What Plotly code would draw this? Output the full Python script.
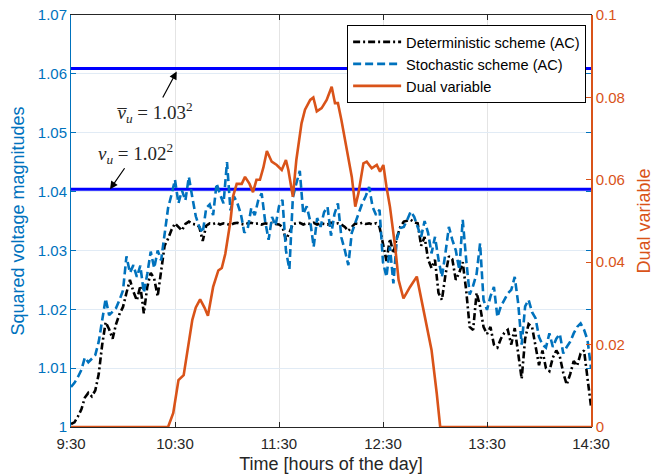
import plotly.graph_objects as go

# ---- data -------------------------------------------------------------
tick_minutes = [0, 60, 120, 180, 240, 300]
tick_labels = ["9:30", "10:30", "11:30", "12:30", "13:30", "14:30"]

minutes = list(range(0, 301, 2))  # sample times (minutes after 9:30)

deterministic = [
    1.0005, 1.0008, 1.0018, 1.0030, 1.0050, 1.0058, 1.0052, 1.0062, 1.0090, 1.0140,
    1.0178, 1.0166, 1.0150, 1.0175, 1.0192, 1.0204, 1.0228, 1.0250, 1.0230, 1.0215,
    1.0240, 1.0193, 1.0238, 1.0262, 1.0252, 1.0222, 1.0265, 1.0308, 1.0320, 1.0335,
    1.0346, 1.0340, 1.0334, 1.0345, 1.0349, 1.0345, 1.0344, 1.0340, 1.0316, 1.0342,
    1.0346, 1.0345, 1.0347, 1.0344, 1.0346, 1.0345, 1.0343, 1.0346, 1.0347, 1.0345,
    1.0344, 1.0346, 1.0347, 1.0345, 1.0346, 1.0344, 1.0346, 1.0345, 1.0347, 1.0345,
    1.0344, 1.0340, 1.0318, 1.0330, 1.0345, 1.0346, 1.0347, 1.0344, 1.0346, 1.0345,
    1.0347, 1.0344, 1.0346, 1.0345, 1.0344, 1.0347, 1.0345, 1.0346, 1.0344, 1.0340,
    1.0333, 1.0340, 1.0346, 1.0345, 1.0347, 1.0345, 1.0346, 1.0344, 1.0346, 1.0340,
    1.0310, 1.0282, 1.0320, 1.0295, 1.0322, 1.0340, 1.0349, 1.0350, 1.0352, 1.0348,
    1.0346, 1.0308, 1.0323, 1.0285, 1.0270, 1.0284, 1.0228, 1.0216, 1.0258, 1.0290,
    1.0285, 1.0250, 1.0262, 1.0280, 1.0232, 1.0170, 1.0165, 1.0228, 1.0205, 1.0170,
    1.0158, 1.0170, 1.0140, 1.0135, 1.0150, 1.0160, 1.0165, 1.0140, 1.0168, 1.0125,
    1.0082, 1.0150, 1.0175, 1.0170, 1.0138, 1.0105, 1.0130, 1.0100, 1.0095, 1.0118,
    1.0130, 1.0120, 1.0092, 1.0072, 1.0090, 1.0112, 1.0104, 1.0125, 1.0130, 1.0085,
    1.0035,
]

stochastic = [
    1.0068, 1.0075, 1.0085, 1.0097, 1.0118, 1.0110, 1.0116, 1.0122, 1.0145, 1.0180,
    1.0218, 1.0190, 1.0196, 1.0202, 1.0216, 1.0232, 1.0290, 1.0262, 1.0275, 1.0255,
    1.0274, 1.0228, 1.0260, 1.0298, 1.0270, 1.0300, 1.0283, 1.0330, 1.0372, 1.0395,
    1.0420, 1.0380, 1.0402, 1.0385, 1.0425, 1.0390, 1.0358, 1.0340, 1.0330, 1.0372,
    1.0378, 1.0360, 1.0414, 1.0395, 1.0380, 1.0450, 1.0368, 1.0392, 1.0380, 1.0362,
    1.0330, 1.0338, 1.0372, 1.0360, 1.0385, 1.0397, 1.0350, 1.0318, 1.0357, 1.0342,
    1.0375, 1.0386, 1.0300, 1.0268, 1.0390, 1.0414, 1.0435, 1.0362, 1.0375, 1.0350,
    1.0306, 1.0355, 1.0340, 1.0365, 1.0374, 1.0325, 1.0362, 1.0380, 1.0322, 1.0300,
    1.0275, 1.0330, 1.0346, 1.0362, 1.0380, 1.0392, 1.0408, 1.0374, 1.0360, 1.0369,
    1.0280, 1.0255, 1.0306, 1.0244, 1.0320, 1.0338, 1.0340, 1.0352, 1.0366, 1.0357,
    1.0340, 1.0323, 1.0350, 1.0330, 1.0295, 1.0323, 1.0285, 1.0255, 1.0295, 1.0340,
    1.0318, 1.0300, 1.0267, 1.0352, 1.0284, 1.0225, 1.0240, 1.0260, 1.0312, 1.0216,
    1.0199, 1.0222, 1.0238, 1.0187, 1.0205, 1.0215, 1.0227, 1.0233, 1.0255, 1.0210,
    1.0140, 1.0205, 1.0216, 1.0195, 1.0185, 1.0153, 1.0140, 1.0135, 1.0159, 1.0136,
    1.0150, 1.0158, 1.0125, 1.0136, 1.0145, 1.0159, 1.0170, 1.0176, 1.0165, 1.0148,
    1.0100,
]

dual_minutes = [
    0, 56, 59, 62, 65, 67, 70, 72, 74.5, 77, 79, 82, 85, 87, 89, 92, 93.5, 95.6,
    98.5, 100.4, 103, 105, 107, 109, 111, 113, 115.8, 118.7, 121.6, 124, 125.4,
    128, 130, 133, 135, 138, 139.8, 141.8, 144.6, 147.5, 150.4, 152.3, 154, 156,
    159, 162, 164, 165.8, 168.7, 170.6, 173.5, 176.4, 178.3, 180.2, 182, 184, 187,
    189, 191.8, 195.6, 199.5, 202, 205.2, 208, 211, 213, 300,
]
dual_values = [
    0, 0, 0.0034, 0.0114, 0.0126, 0.018, 0.026, 0.029, 0.031, 0.029, 0.027, 0.034,
    0.038, 0.0386, 0.042, 0.050, 0.056, 0.059, 0.059, 0.0607, 0.059, 0.057, 0.060,
    0.060, 0.063, 0.067, 0.0644, 0.0636, 0.0624, 0.0648, 0.0624, 0.0559, 0.0648,
    0.0737, 0.077, 0.0794, 0.080, 0.0766, 0.0774, 0.0794, 0.0826, 0.0786, 0.0786,
    0.0745, 0.068, 0.0607, 0.0535, 0.0567, 0.064, 0.0644, 0.0628, 0.0636, 0.062,
    0.0636, 0.0583, 0.0535, 0.0438, 0.0357, 0.0312, 0.034, 0.0365, 0.0312, 0.025,
    0.0187, 0.0082, 0, 0,
]

upper_bound = 1.03 ** 2
lower_bound = 1.02 ** 2

left_ticks = [1, 1.01, 1.02, 1.03, 1.04, 1.05, 1.06, 1.07]
left_tick_labels = ["1", "1.01", "1.02", "1.03", "1.04", "1.05", "1.06", "1.07"]
right_ticks = [0, 0.02, 0.04, 0.06, 0.08, 0.1]
right_tick_labels = ["0", "0.02", "0.04", "0.06", "0.08", "0.1"]

# ---- styles -----------------------------------------------------------
BLUE = "#0072BD"
ORANGE = "#D95319"
DARK = "#262626"
FONT = "Liberation Sans, Arial, sans-serif"
SERIF = "Liberation Serif, Times New Roman, serif"

fig = go.Figure()

for b in (upper_bound, lower_bound):
    fig.add_trace(go.Scatter(
        x=[tick_minutes[0], tick_minutes[-1]], y=[b, b], mode="lines",
        line=dict(color="#0000FF", width=3), showlegend=False, hoverinfo="skip"))

fig.add_trace(go.Scatter(
    x=minutes, y=deterministic, mode="lines", name="Deterministic scheme (AC)",
    line=dict(color="black", width=2.6, dash="7px,3px,2px,3px")))
fig.add_trace(go.Scatter(
    x=minutes, y=stochastic, mode="lines", name="Stochastic scheme (AC)",
    line=dict(color=BLUE, width=2.6, dash="8px,4px")))
fig.add_trace(go.Scatter(
    x=dual_minutes, y=dual_values, mode="lines", name="Dual variable",
    line=dict(color=ORANGE, width=2.6), yaxis="y2"))

# page body has an 8px margin, so the figure is sized/placed to compensate
fig.update_layout(
    width=660, height=467,
    margin=dict(l=63, r=77, t=7, b=48, autoexpand=False),
    paper_bgcolor="white", plot_bgcolor="white",
    font=dict(family=FONT, size=15, color=DARK),
    xaxis=dict(
        range=[tick_minutes[0], tick_minutes[-1]],
        tickvals=tick_minutes, ticktext=tick_labels,
        ticks="inside", ticklen=5, tickcolor=DARK, tickwidth=1,
        showline=True, linecolor=DARK, linewidth=1, mirror="ticks",
        showgrid=True, gridcolor="#E4E4E4", gridwidth=1, zeroline=False,
        tickfont=dict(size=15, color=DARK), automargin=False, ticklabelstandoff=3,
        ticklabeloverflow="allow",
        title=dict(text="Time [hours of the day]", font=dict(size=18, color=DARK), standoff=6),
    ),
    yaxis=dict(
        range=[1, 1.07], tickvals=left_ticks, ticktext=left_tick_labels,
        ticks="inside", ticklen=5, tickcolor=BLUE, tickwidth=1,
        showline=True, linecolor=BLUE, linewidth=1, mirror="ticks",
        showgrid=True, gridcolor="#E1EBF5", gridwidth=1, zeroline=False,
        tickfont=dict(size=15, color=BLUE), automargin=False,
        ticklabeloverflow="allow",
        title=dict(text="Squared voltage magnitudes", font=dict(size=18, color=BLUE), standoff=8),
    ),
    yaxis2=dict(
        range=[0, 0.1], tickvals=right_ticks, ticktext=right_tick_labels,
        overlaying="y", side="right",
        ticks="inside", ticklen=5, tickcolor=ORANGE, tickwidth=1,
        showline=True, linecolor=ORANGE, linewidth=1.5,
        showgrid=False, zeroline=False,
        tickfont=dict(size=15, color=ORANGE), automargin=False,
        ticklabeloverflow="allow",
        title=dict(text="Dual variable", font=dict(size=18, color=ORANGE), standoff=13),
    ),
    legend=dict(
        x=0.531, y=0.976, xanchor="left", yanchor="top",
        bgcolor="white", bordercolor="black", borderwidth=1,
        font=dict(size=14.6, color="black"), tracegroupgap=0, itemwidth=48,
    ),
    showlegend=True,
)

fig.add_annotation(
    x=61, y=upper_bound - 0.0005, xref="x", yref="y",
    text="<i>v&#773;</i><sub><i>u</i></sub> = 1.03<sup>2</sup>",
    font=dict(family=SERIF, size=19, color=DARK),
    showarrow=True, arrowhead=2, arrowsize=1.3, arrowwidth=1.2, arrowcolor="black",
    ax=-22, ay=41,
)
fig.add_annotation(
    x=22.5, y=lower_bound, xref="x", yref="y",
    text="<i>v</i><sub><i>u</i></sub> = 1.02<sup>2</sup>",
    font=dict(family=SERIF, size=19, color=DARK),
    showarrow=True, arrowhead=2, arrowsize=1.3, arrowwidth=1.2, arrowcolor="black",
    ax=25, ay=-36,
)

fig.write_html("out.html")
